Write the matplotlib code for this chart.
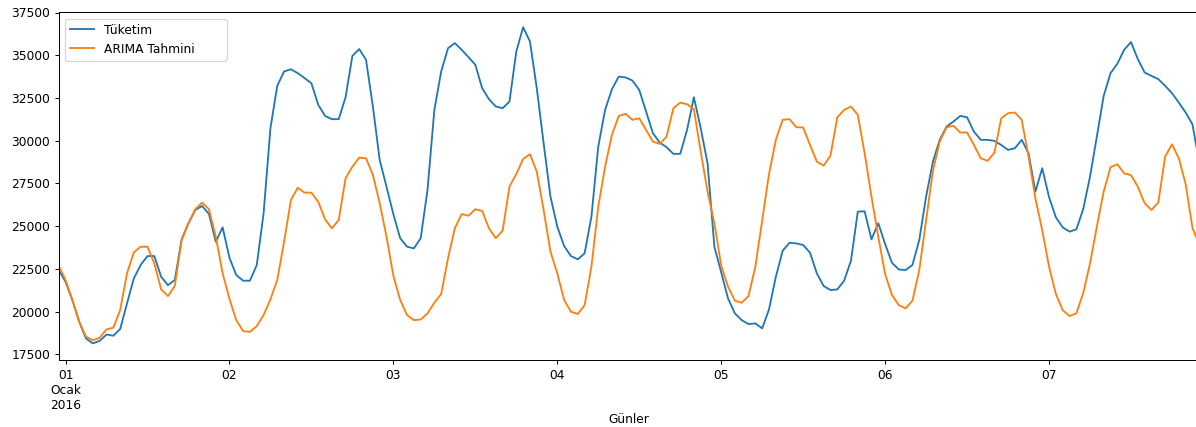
import pandas as pd
import matplotlib
matplotlib.use("Agg")
import matplotlib.pyplot as plt

# saatlik seri, 2015-12-31 23:00'den başlıyor
baslangic = "2015-12-31 23:00"

tuketim = [
    22430, 21750, 20680, 19410, 18430, 18140, 18290, 18660, 18590, 18980, 20480, 21940, 22730,
    23250, 23250, 22040, 21550, 21850, 24230, 25170, 25950, 26180, 25710, 24090, 24930,
    23150, 22140, 21810, 21810, 22730, 25750, 30730, 33210, 34050, 34180, 33950, 33660,
    33360, 32100, 31450, 31260, 31260, 32540, 34960, 35360, 34730, 32000, 28870, 27300,
    25700, 24290, 23800, 23700, 24290, 27120, 31800, 34050, 35410, 35710, 35320, 34890,
    34440, 33070, 32430, 32000, 31900, 32290, 35220, 36640, 35800, 33070, 29850, 26730,
    24970, 23840, 23250, 23060, 23410, 25560, 29660, 31800, 33010, 33750, 33700, 33520,
    32970, 31700, 30440, 29890, 29620, 29230, 29230, 30630, 32540, 30730, 28680, 23800,
    22300, 20770, 19900, 19500, 19270, 19310, 19020, 20130, 22040, 23560, 24030, 23990,
    23900, 23450, 22240, 21500, 21260, 21300, 21810, 22980, 25850, 25870, 24230, 25170,
    23950, 22860, 22470, 22430, 22730, 24190, 26730, 28780, 30050, 30830, 31120, 31450,
    31370, 30530, 30050, 30050, 29990, 29750, 29460, 29560, 30050, 29260, 27020, 28390,
    26700, 25520, 24930, 24680, 24810, 25990, 27900, 30240, 32620, 33950, 34500, 35320,
    35770, 34770, 33990, 33790, 33600, 33210, 32780, 32230, 31650, 30960, 28700,
]

arima = [
    22690, 21850, 20680, 19410, 18530, 18330, 18470, 18960, 19060, 20090, 22240, 23470, 23800,
    23800, 22820, 21300, 20910, 21500, 24190, 25170, 25990, 26380, 25990, 24380, 22240,
    20750, 19500, 18860, 18820, 19150, 19800, 20720, 21850, 24090, 26530, 27250, 26960,
    26960, 26430, 25400, 24870, 25360, 27800, 28480, 29010, 28970, 28000, 26340, 24380,
    22100, 20680, 19800, 19500, 19540, 19900, 20520, 21030, 23120, 24870, 25710, 25610,
    25990, 25890, 24870, 24290, 24740, 27310, 28050, 28930, 29210, 28190, 25950, 23510,
    22240, 20680, 19990, 19860, 20380, 22630, 26140, 28480, 30340, 31450, 31570, 31220,
    31310, 30630, 29950, 29810, 30240, 31900, 32230, 32130, 31840, 29360, 27020, 25170,
    22680, 21460, 20640, 20520, 20910, 22630, 25320, 28050, 30050, 31220, 31260, 30790,
    30770, 29750, 28780, 28540, 29130, 31370, 31800, 32000, 31510, 29260, 26730, 24380,
    22200, 20970, 20380, 20190, 20640, 22430, 25360, 28250, 29950, 30790, 30870, 30480,
    30480, 29750, 28970, 28820, 29300, 31310, 31610, 31650, 31220, 29070, 26630, 24770,
    22630, 21030, 20090, 19740, 19900, 21070, 22820, 24970, 27020, 28450, 28620, 28090,
    27980, 27310, 26340, 25950, 26380, 29070, 29790, 28970, 27470, 24900, 23900,
]

gun_etiketleri = ["01\nOcak\n2016", "02", "03", "04", "05", "06", "07"]
y_tikler = [17500, 20000, 22500, 25000, 27500, 30000, 32500, 35000, 37500]

saatler = pd.date_range(baslangic, periods=len(tuketim), freq="h")
gunler = pd.date_range("2016-01-01", periods=len(gun_etiketleri), freq="D")

dpi = 88
fig = plt.figure(figsize=(1196 / dpi, 427 / dpi), dpi=dpi)
ax = fig.add_axes([58.7 / 1196, 67 / 427, 1140.6 / 1196, 347.5 / 427])

ax.plot(saatler, tuketim, color="#1f77b4", lw=1.5, label="Tüketim")
ax.plot(saatler, arima, color="#ff7f0e", lw=1.5, label="ARIMA Tahmini")

ax.set_xlim(saatler[0], saatler[-1])
ax.set_ylim(17170, 37500)
ax.set_xticks(gunler)
ax.set_xticklabels(gun_etiketleri)
ax.set_yticks(y_tikler)
ax.set_xlabel("Günler", labelpad=1)
ax.legend(loc="upper left", mode="expand", bbox_to_anchor=(0, 0, 0.1528, 1))

fig.savefig("out.png", dpi=dpi)
